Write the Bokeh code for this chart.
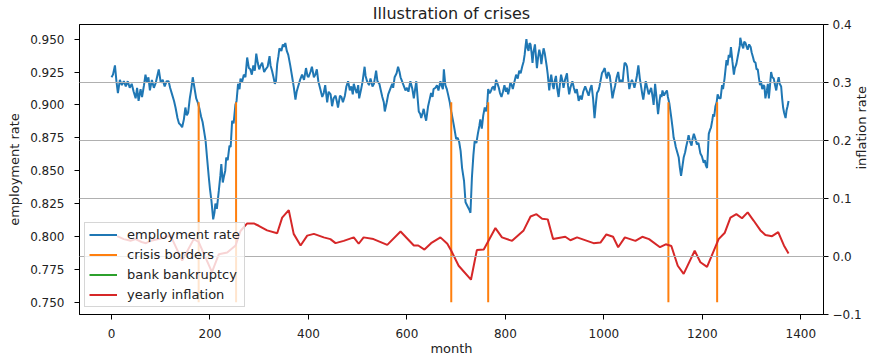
import math
from bokeh.plotting import figure
from bokeh.models import (Range1d, LinearAxis, Grid, Legend, LegendItem,
                          NumeralTickFormatter, CustomJSTickFormatter, FixedTicker,
                          ColumnDataSource)
from bokeh.embed import file_html
from bokeh.resources import INLINE

# ---------------- data ----------------
emp_month = [0, 3, 7, 10, 13, 17, 21, 25, 29, 33, 37, 41, 45, 49, 52, 55, 59, 62, 66, 69, 72, 75, 78, 82, 86, 90,
             93, 96, 100, 104, 108, 112, 116, 119, 123, 127, 130, 134, 137, 140, 143.5, 147, 150, 153, 155.6, 159,
             162, 165, 168, 172, 175, 178.7, 182, 185, 188, 191, 194, 197.6, 200, 203, 206.5, 209, 211, 214, 218,
             221, 223, 226, 228, 231, 233, 236, 239.6, 242, 245, 248, 251.6, 254, 257, 260, 262, 265, 268.7, 272,
             275.5, 279, 282, 285, 288, 291, 294, 297, 300, 303, 306, 310, 313, 317, 321, 323, 326, 329, 331.7, 334,
             336.5, 339, 341, 345, 348, 350, 353, 356, 359, 363, 367, 370, 373.6, 376, 379, 383, 387, 391, 395, 398,
             400, 404, 407, 411, 414, 417, 420, 424, 428, 431, 434, 438, 441, 445, 448, 451, 455, 458, 460, 464, 467,
             470, 474, 477, 480.5, 484, 487, 490, 492, 495, 498, 501, 503, 507, 510, 514, 516, 519, 523, 526, 530,
             533, 537.4, 540, 544, 547, 550, 553, 555, 559, 562, 566, 570, 572, 575, 579, 582, 585, 587, 590, 593,
             597, 600, 603, 607, 611, 614, 617, 619, 622, 624, 627, 629, 632, 634, 637, 639, 643, 646, 649, 652, 654,
             658, 661, 664, 668, 671, 673, 675, 678, 681, 683.5, 687, 690, 695, 700, 703, 706, 709, 712, 716, 719,
             723, 727, 729, 732, 735, 737.7, 741, 744, 747, 749, 752, 755, 758, 761, 763, 765, 768, 770, 773, 776,
             778, 781, 784, 786.6, 789, 792, 795, 798, 801, 803, 805.6, 808, 810, 813, 815, 818, 821.7, 825, 828,
             831, 834, 837, 839, 841, 842.6, 845, 847, 849, 851, 853, 855, 857, 860, 862, 864, 866, 868.8, 871, 873,
             875, 877.5, 880, 882, 884, 886, 889, 891, 893, 896, 898, 900, 902.6, 905, 908, 911, 913, 916, 918, 921,
             925, 927, 929.5, 932, 936, 939, 942, 945, 948.8, 952, 955, 958, 962, 965, 969, 972, 975, 978, 981, 984,
             986, 989, 991, 994, 996, 999, 1001.7, 1004, 1006, 1009, 1012, 1015, 1017.4, 1020, 1023, 1026, 1029,
             1032, 1035, 1038, 1040, 1042, 1045, 1047, 1049, 1051.6, 1054, 1057, 1060, 1062, 1065, 1067, 1070, 1073,
             1076, 1078, 1080, 1083, 1085, 1088, 1091, 1094, 1096, 1099, 1101, 1104, 1107, 1110, 1113, 1115, 1117,
             1119, 1122, 1124.6, 1128, 1130, 1133, 1137, 1140, 1141.7, 1144, 1146, 1149, 1152, 1154, 1156.7, 1159,
             1162, 1165, 1167, 1170, 1172, 1175, 1178, 1180, 1182.7, 1186, 1189, 1192, 1196, 1199, 1202.7, 1205,
             1207, 1209.5, 1211, 1213, 1215.5, 1217.6, 1220, 1222, 1224, 1226.5, 1229, 1231, 1234, 1237, 1240, 1242,
             1245, 1247, 1249, 1251, 1253.6, 1256, 1258, 1261, 1264, 1266, 1269, 1271, 1274, 1276, 1277, 1280, 1283,
             1285, 1287.6, 1290, 1292, 1295, 1298, 1300, 1303, 1305, 1308, 1310, 1312.5, 1315, 1317, 1319, 1321.6,
             1324, 1326, 1328, 1331, 1333, 1335, 1337, 1339.6, 1342, 1345, 1347, 1350, 1352, 1355, 1357, 1360, 1362,
             1364, 1366, 1369, 1371, 1373, 1375]
emp_rate = [0.921, 0.923, 0.930, 0.918, 0.909, 0.919, 0.915, 0.918, 0.914, 0.918, 0.913, 0.916, 0.910, 0.905, 0.913,
            0.903, 0.912, 0.906, 0.915, 0.923, 0.917, 0.921, 0.911, 0.919, 0.913, 0.917, 0.922, 0.927, 0.917, 0.919,
            0.914, 0.918, 0.918, 0.913, 0.908, 0.903, 0.898, 0.890, 0.886, 0.885, 0.883, 0.889, 0.898, 0.892, 0.894,
            0.905, 0.912, 0.921, 0.914, 0.905, 0.902, 0.897, 0.891, 0.887, 0.880, 0.873, 0.860, 0.845, 0.836, 0.827,
            0.813, 0.818, 0.825, 0.821, 0.835, 0.846, 0.855, 0.841, 0.845, 0.850, 0.860, 0.858, 0.869, 0.868, 0.888,
            0.886, 0.900, 0.903, 0.916, 0.912, 0.920, 0.917, 0.923, 0.921, 0.936, 0.928, 0.927, 0.923, 0.930, 0.926,
            0.939, 0.932, 0.927, 0.930, 0.932, 0.925, 0.927, 0.929, 0.937, 0.930, 0.926, 0.921, 0.916, 0.918, 0.931,
            0.937, 0.943, 0.941, 0.946, 0.944, 0.947, 0.941, 0.938, 0.930, 0.921, 0.914, 0.904, 0.910, 0.914, 0.919,
            0.923, 0.919, 0.928, 0.922, 0.921, 0.925, 0.929, 0.921, 0.923, 0.927, 0.918, 0.912, 0.906, 0.909, 0.915,
            0.902, 0.910, 0.908, 0.899, 0.905, 0.907, 0.902, 0.898, 0.907, 0.906, 0.902, 0.907, 0.914, 0.918, 0.911,
            0.914, 0.908, 0.916, 0.912, 0.909, 0.915, 0.905, 0.912, 0.918, 0.929, 0.922, 0.918, 0.915, 0.920, 0.914,
            0.916, 0.926, 0.918, 0.916, 0.911, 0.906, 0.902, 0.895, 0.902, 0.908, 0.912, 0.916, 0.913, 0.921, 0.924,
            0.929, 0.925, 0.921, 0.918, 0.915, 0.911, 0.913, 0.910, 0.918, 0.912, 0.905, 0.913, 0.918, 0.904, 0.895,
            0.893, 0.890, 0.894, 0.897, 0.891, 0.888, 0.899, 0.904, 0.909, 0.906, 0.912, 0.913, 0.915, 0.911, 0.918,
            0.914, 0.912, 0.927, 0.915, 0.912, 0.908, 0.902, 0.895, 0.885, 0.874, 0.875, 0.872, 0.865, 0.852, 0.842,
            0.826, 0.823, 0.820, 0.818, 0.845, 0.862, 0.873, 0.871, 0.878, 0.884, 0.889, 0.882, 0.892, 0.898, 0.895,
            0.900, 0.912, 0.909, 0.910, 0.913, 0.914, 0.911, 0.919, 0.916, 0.913, 0.909, 0.906, 0.910, 0.915, 0.910,
            0.913, 0.908, 0.912, 0.917, 0.915, 0.912, 0.917, 0.923, 0.920, 0.926, 0.924, 0.929, 0.933, 0.938, 0.945,
            0.950, 0.943, 0.941, 0.947, 0.946, 0.940, 0.932, 0.940, 0.946, 0.937, 0.928, 0.935, 0.942, 0.938, 0.931,
            0.937, 0.943, 0.939, 0.934, 0.929, 0.923, 0.911, 0.918, 0.923, 0.915, 0.912, 0.918, 0.922, 0.913, 0.906,
            0.917, 0.923, 0.918, 0.913, 0.919, 0.924, 0.915, 0.908, 0.913, 0.918, 0.913, 0.909, 0.912, 0.903, 0.907,
            0.904, 0.910, 0.914, 0.911, 0.907, 0.912, 0.915, 0.905, 0.890, 0.902, 0.909, 0.911, 0.914, 0.920, 0.924,
            0.926, 0.928, 0.923, 0.920, 0.925, 0.922, 0.913, 0.905, 0.910, 0.915, 0.921, 0.925, 0.917, 0.919, 0.917,
            0.925, 0.932, 0.931, 0.929, 0.921, 0.912, 0.916, 0.919, 0.916, 0.913, 0.918, 0.922, 0.930, 0.920, 0.913,
            0.908, 0.904, 0.912, 0.918, 0.913, 0.908, 0.911, 0.913, 0.906, 0.900, 0.916, 0.905, 0.893, 0.903, 0.908,
            0.906, 0.911, 0.907, 0.909, 0.911, 0.906, 0.901, 0.890, 0.881, 0.875, 0.872, 0.868, 0.864, 0.860, 0.853,
            0.846, 0.852, 0.860, 0.864, 0.868, 0.873, 0.877, 0.872, 0.869, 0.874, 0.878, 0.874, 0.870, 0.871, 0.863,
            0.861, 0.856, 0.858, 0.854, 0.852, 0.862, 0.878, 0.881, 0.883, 0.888, 0.893, 0.891, 0.899, 0.902, 0.908,
            0.905, 0.905, 0.915, 0.912, 0.920, 0.927, 0.934, 0.930, 0.938, 0.936, 0.944, 0.933, 0.923, 0.928, 0.931,
            0.935, 0.941, 0.945, 0.951, 0.946, 0.943, 0.948, 0.947, 0.944, 0.942, 0.946, 0.944, 0.940, 0.936, 0.933,
            0.932, 0.927, 0.927, 0.920, 0.915, 0.918, 0.912, 0.915, 0.914, 0.905, 0.911, 0.916, 0.905, 0.913, 0.925,
            0.921, 0.920, 0.916, 0.911, 0.916, 0.921, 0.916, 0.914, 0.905, 0.898, 0.894, 0.890, 0.896, 0.899, 0.903]

infl_month = [11.5, 25, 38.6, 49, 61, 70, 80, 100, 120, 143.5, 167, 177, 204, 218, 235, 252, 262, 275.5, 289, 299,
              316, 336.5, 346.6, 360, 370, 384, 397.5, 411, 431, 444.5, 455, 471.6, 492, 502, 512, 532, 560, 587,
              614, 623, 635.6, 649, 668, 682, 690, 705, 730, 742, 756, 779.7, 793, 813.5, 837, 851, 863, 874.5, 886,
              896.8, 921.6, 932, 945.5, 979, 993, 1005, 1018.6, 1029, 1042.6, 1064, 1078, 1091.7, 1114, 1125.6, 1137,
              1150, 1162, 1184.4, 1196, 1209.5, 1233, 1245.6, 1257, 1269, 1280.5, 1292, 1304, 1318, 1328, 1341.6,
              1354, 1365.6, 1375]
infl_rate = [0.035, 0.030, 0.027, 0.030, 0.025, 0.023, 0.027, 0.031, 0.036, -0.007, 0.030, 0.025, -0.027, 0.004,
             0.007, 0.019, 0.044, 0.057, 0.057, 0.053, 0.045, 0.040, 0.067, 0.080, 0.039, 0.019, 0.036, 0.039,
             0.033, 0.030, 0.023, 0.027, 0.033, 0.022, 0.033, 0.030, 0.020, 0.043, 0.019, 0.019, 0.012, 0.023,
             0.033, 0.022, 0.010, -0.016, -0.040, 0.011, 0.012, 0.049, 0.033, 0.027, 0.045, 0.069, 0.073, 0.065,
             0.064, 0.030, 0.034, 0.028, 0.033, 0.023, 0.024, 0.038, 0.034, 0.016, 0.033, 0.027, 0.034, 0.030,
             0.016, 0.021, 0.018, -0.016, -0.030, 0.010, -0.010, -0.018, 0.030, 0.041, 0.067, 0.073, 0.066, 0.076,
             0.062, 0.045, 0.037, 0.035, 0.042, 0.019, 0.005]

crisis_month = [177, 253, 690, 765, 1131, 1230]
crisis_low = 0.75
crisis_high = 0.902

# bank bankruptcies: none occur in this run (legend entry only)
bank_month = [0]
bank_rate = [float("nan")]

left_ticks = [0.750, 0.775, 0.800, 0.825, 0.850, 0.875, 0.900, 0.925, 0.950]
right_ticks = [-0.1, 0.0, 0.1, 0.2, 0.3, 0.4]
x_ticks = [0, 200, 400, 600, 800, 1000, 1200, 1400]

# ---------------- figure ----------------
FONT = "DejaVu Sans"
TXT = "#222222"

p = figure(width=880, height=362, x_range=Range1d(-65, 1446), y_range=Range1d(0.7407, 0.9611),
           output_backend="svg", toolbar_location=None,
           min_border_left=79, min_border_right=57, min_border_top=23, min_border_bottom=48)
p.extra_y_ranges = {"infl": Range1d(-0.1, 0.4)}
p.xgrid.visible = False
p.ygrid.visible = False
p.outline_line_color = "black"
p.outline_line_width = 1
p.background_fill_color = "white"
p.border_fill_color = "white"

p.title.text = "Illustration of crises"
p.title.align = "center"
p.title.text_font = FONT
p.title.text_font_size = "16px"
p.title.text_font_style = "normal"
p.title.text_color = TXT
p.title.standoff = 3
p.title.offset = 0

def style_axis(ax, standoff, label_standoff):
    ax.major_tick_in = 0
    ax.major_tick_out = 5
    ax.minor_tick_in = 0
    ax.minor_tick_out = 0
    ax.axis_line_color = "black"
    ax.major_tick_line_color = "black"
    ax.major_label_text_font = FONT
    ax.major_label_text_font_size = "12px"
    ax.major_label_text_color = TXT
    ax.major_label_standoff = standoff
    ax.axis_label_text_font = FONT
    ax.axis_label_text_font_size = "13px"
    ax.axis_label_text_font_style = "normal"
    ax.axis_label_text_color = TXT
    ax.axis_label_standoff = label_standoff

xa = p.xaxis[0]
xa.ticker = FixedTicker(ticks=x_ticks)
xa.axis_label = "month"
style_axis(xa, 9, 0)

ya = p.yaxis[0]
ya.ticker = FixedTicker(ticks=left_ticks)
ya.formatter = NumeralTickFormatter(format="0.000")
ya.axis_label = "employment rate"
style_axis(ya, 10, 5)

ra = LinearAxis(y_range_name="infl", ticker=FixedTicker(ticks=right_ticks),
                formatter=CustomJSTickFormatter(code="return tick.toFixed(1).replace('-', '\u2212');"),
                axis_label="inflation rate")
style_axis(ra, 4, -3)
if "axis_label_orientation" in LinearAxis.properties():
    ra.axis_label_orientation = math.pi / 2
p.add_layout(ra, "right")

# lines
r_emp = p.line(emp_month, emp_rate, line_color="#1f77b4", line_width=2)
r_cri = p.segment(x0=crisis_month, y0=[crisis_low] * len(crisis_month),
                  x1=crisis_month, y1=[crisis_high] * len(crisis_month),
                  line_color="#ff7f0e", line_width=2)
r_bank = p.line(x="x", y="y", source=ColumnDataSource(data=dict(x=bank_month, y=bank_rate)),
                line_color="#2ca02c", line_width=2)

grid = Grid(dimension=1, ticker=FixedTicker(ticks=right_ticks), y_range_name="infl",
            grid_line_color="#b0b0b0", grid_line_width=1, level="overlay")
p.add_layout(grid)

r_inf = p.line(infl_month, infl_rate, y_range_name="infl", line_color="#d62728", line_width=2,
               level="overlay")

legend = Legend(items=[LegendItem(label="employment rate", renderers=[r_emp]),
                       LegendItem(label="crisis borders", renderers=[r_cri]),
                       LegendItem(label="bank bankruptcy", renderers=[r_bank]),
                       LegendItem(label="yearly inflation", renderers=[r_inf])],
                location=(5, 7), label_text_font=FONT, label_text_font_size="13px",
                label_text_color=TXT, glyph_width=28, glyph_height=15, label_height=15,
                label_standoff=10, spacing=5, padding=4, margin=0,
                border_line_color="#cccccc", border_line_alpha=0.8,
                background_fill_color="white", background_fill_alpha=0.8)
p.add_layout(legend)

open("out.html", "w").write(file_html(p, INLINE))
